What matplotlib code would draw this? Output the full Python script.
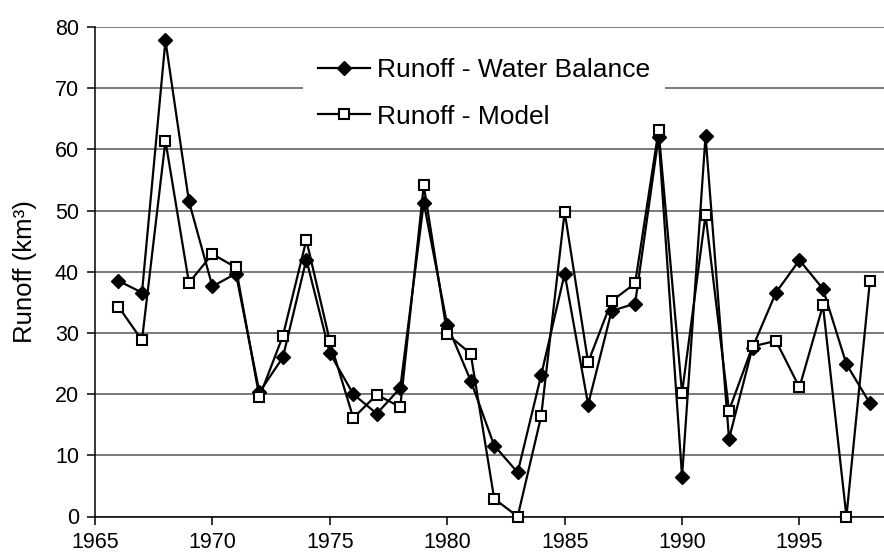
import matplotlib
matplotlib.use("Agg")
import matplotlib.pyplot as plt

plt.rcParams['font.family'] = ['Liberation Sans', 'DejaVu Sans']

years = list(range(1966, 1999))
water_balance = [38.5, 36.6, 77.8, 51.5, 37.6, 39.7, 20.3, 26.0, 42.0, 26.7,
                 20.0, 16.8, 21.0, 51.3, 31.3, 22.2, 11.6, 7.2, 23.1, 39.7,
                 18.3, 33.6, 34.8, 62.0, 6.5, 62.2, 12.7, 27.6, 36.6, 41.9,
                 37.2, 24.9, 18.5]
model = [34.3, 28.8, 61.4, 38.2, 42.9, 40.7, 19.5, 29.5, 45.2, 28.7,
         16.1, 19.9, 17.9, 54.1, 29.8, 26.6, 2.9, 0.0, 16.4, 49.8,
         25.2, 35.2, 38.1, 63.1, 20.2, 49.3, 17.3, 27.8, 28.7, 21.1,
         34.5, 0.0, 38.5]
xticks = [1965, 1970, 1975, 1980, 1985, 1990, 1995]
yticks = [0, 10, 20, 30, 40, 50, 60, 70, 80]

fig = plt.figure(figsize=(8.84, 5.54), dpi=100)
ax = fig.add_axes([95/884, 37.5/554, 789/884, 489.5/554])

ax.plot(years, water_balance, color='black', lw=1.6, marker='D', ms=7.5,
        mfc='black', mec='black', label='Runoff - Water Balance', zorder=3)
ax.plot(years, model, color='black', lw=1.6, marker='s', ms=7,
        mfc='white', mec='black', mew=1.5, label='Runoff - Model', zorder=4,
        clip_on=False)

ax.set_xlim(1965, 1998.6)
ax.set_ylim(0, 80)
ax.set_xticks(xticks)
ax.set_yticks(yticks)
ax.grid(axis='y', color='#555555', lw=1.1)
ax.set_axisbelow(True)
for s in ['top', 'right']:
    ax.spines[s].set_visible(False)
for s in ['left', 'bottom']:
    ax.spines[s].set_linewidth(1.1)
ax.tick_params(axis='both', direction='out', length=5.5, width=1.1, labelsize=15.5)
ax.tick_params(axis='y', pad=6)
ax.tick_params(axis='x', pad=6)
ax.set_ylabel('Runoff (km³)', fontsize=18.5, labelpad=13)

leg = ax.legend(loc='upper left', bbox_to_anchor=(0.264, 0.966), borderaxespad=0,
                fontsize=19, frameon=True, fancybox=False, framealpha=1,
                facecolor='white', edgecolor='none', handlelength=1.97,
                handletextpad=0.27, labelspacing=0.85, borderpad=0.55)
leg.set_zorder(2.5)

fig.savefig('out.png', dpi=100)
